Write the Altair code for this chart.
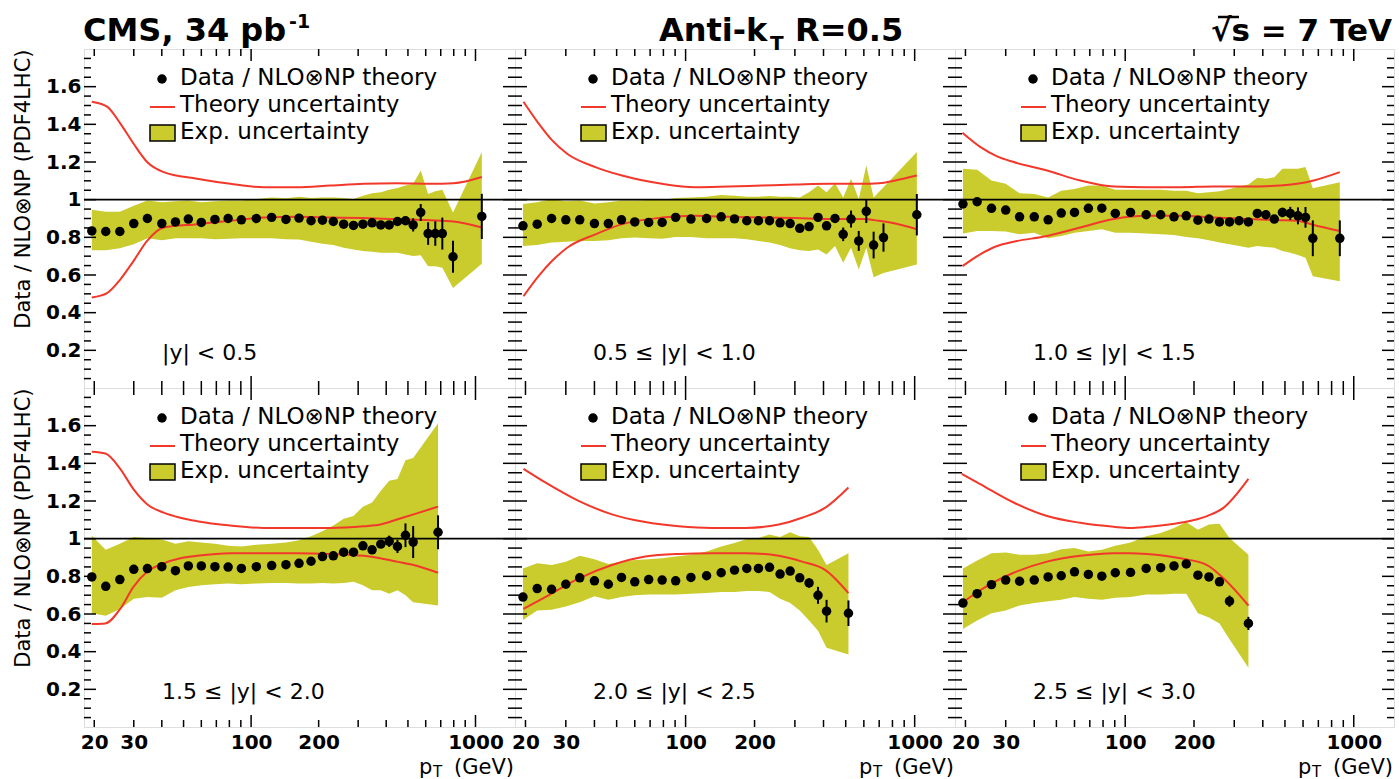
import altair as alt
import pandas as pd

# ---------------------------------------------------------------- data
# jet pT bin centres (GeV)
BIN_CENTERS = [19.5, 22.5, 26, 30, 34.5, 40, 46, 52.5, 60, 69, 79, 90.5,
               105.5, 123.5, 143, 163.5, 185, 208, 232.5, 258.5, 286, 315,
               346, 378.5, 412.5, 449, 487.5, 527.5, 570, 615, 662, 711.5]

# |y| < 0.5
PT_1 = BIN_CENTERS[:32] + [794, 1067]
RATIO_1 = [0.834, 0.831, 0.831, 0.873, 0.900, 0.873, 0.882, 0.897, 0.879, 0.895,
           0.900, 0.893, 0.900, 0.906, 0.895, 0.902, 0.888, 0.891, 0.884, 0.870,
           0.863, 0.870, 0.877, 0.866, 0.866, 0.884, 0.888, 0.866, 0.932, 0.820,
           0.820, 0.820, 0.697, 0.911]
ERR_1 = [0.004] * 20 + [0.005, 0.006, 0.007, 0.008, 0.010, 0.013, 0.018, 0.035,
                        0.045, 0.060, 0.065, 0.085, 0.085, 0.120]
EXP_HI_1 = [0.947, 0.936, 0.936, 0.968, 0.995, 0.986, 0.991, 0.995, 0.986, 0.991,
            0.995, 0.995, 1.004, 1.012, 1.007, 1.016, 1.009, 1.012, 1.012, 1.009,
            1.004, 1.021, 1.034, 1.039, 1.052, 1.062, 1.075, 1.084, 1.155, 1.030,
            1.045, 1.052, 0.932, 1.253]
EXP_LO_1 = [0.731, 0.731, 0.742, 0.763, 0.795, 0.784, 0.795, 0.795, 0.795, 0.790,
            0.793, 0.795, 0.795, 0.795, 0.790, 0.788, 0.777, 0.766, 0.759, 0.745,
            0.736, 0.727, 0.724, 0.718, 0.718, 0.718, 0.709, 0.701, 0.705, 0.647,
            0.647, 0.638, 0.531, 0.660]
TH_PT_1 = [19.5, 22.8, 26.1, 29.9, 34.4, 40.8, 57.4, 80.8, 113.7, 160.1, 225.4,
           317.5, 446.8, 629, 799, 1067]
TH_HI_1 = [1.520, 1.494, 1.405, 1.298, 1.200, 1.146, 1.111, 1.084, 1.066, 1.066,
           1.075, 1.084, 1.087, 1.084, 1.087, 1.120]
TH_LO_1 = [0.481, 0.504, 0.576, 0.674, 0.781, 0.852, 0.870, 0.888, 0.905, 0.909,
           0.905, 0.902, 0.896, 0.891, 0.884, 0.852]

# 0.5 <= |y| < 1.0
PT_2 = BIN_CENTERS[:31] + [731, 1022]
RATIO_2 = [0.861, 0.870, 0.900, 0.893, 0.893, 0.873, 0.873, 0.893, 0.882, 0.879,
           0.879, 0.906, 0.897, 0.900, 0.909, 0.898, 0.888, 0.888, 0.888, 0.877,
           0.873, 0.848, 0.857, 0.906, 0.861, 0.900, 0.816, 0.897, 0.781, 0.938,
           0.759, 0.799, 0.920]
ERR_2 = [0.004] * 23 + [0.008, 0.010, 0.015, 0.036, 0.045, 0.053, 0.062, 0.071,
                        0.075, 0.110]
EXP_HI_2 = [0.977, 0.986, 1.004, 0.991, 0.995, 0.980, 0.986, 0.995, 0.995, 0.998,
            0.998, 1.009, 1.012, 1.016, 1.025, 1.021, 1.016, 1.016, 1.020, 1.016,
            1.016, 1.012, 1.039, 1.075, 1.039, 1.087, 1.012, 1.111, 1.004, 1.182,
            1.012, 1.066, 1.253]
EXP_LO_2 = [0.754, 0.759, 0.772, 0.777, 0.781, 0.781, 0.784, 0.795, 0.799, 0.795,
            0.793, 0.802, 0.802, 0.795, 0.795, 0.795, 0.790, 0.781, 0.772, 0.759,
            0.742, 0.731, 0.727, 0.736, 0.709, 0.754, 0.665, 0.745, 0.629, 0.745,
            0.588, 0.611, 0.656]
TH_PT_2 = [19.6, 22.8, 26.1, 30.4, 40.4, 52.8, 78.9, 110.4, 154.4, 215.7, 301.5,
           422, 589.6, 697.4, 824.3, 1022]
TH_HI_2 = [1.520, 1.405, 1.316, 1.244, 1.173, 1.128, 1.084, 1.066, 1.070, 1.075,
           1.080, 1.084, 1.084, 1.087, 1.102, 1.128]
TH_LO_2 = [0.487, 0.594, 0.674, 0.745, 0.816, 0.870, 0.905, 0.914, 0.909, 0.905,
           0.902, 0.897, 0.897, 0.888, 0.873, 0.843]

# 1.0 <= |y| < 1.5
PT_3 = BIN_CENTERS[:31] + [869]
RATIO_3 = [0.977, 0.989, 0.954, 0.945, 0.909, 0.909, 0.893, 0.929, 0.932, 0.954,
           0.955, 0.927, 0.932, 0.920, 0.920, 0.909, 0.914, 0.891, 0.897, 0.882,
           0.882, 0.888, 0.882, 0.927, 0.920, 0.897, 0.932, 0.927, 0.914, 0.906,
           0.795, 0.795]
ERR_3 = [0.004] * 25 + [0.010, 0.025, 0.035, 0.045, 0.055, 0.095, 0.095]
EXP_HI_3 = [1.164, 1.159, 1.102, 1.084, 1.034, 1.030, 1.012, 1.048, 1.057, 1.075,
            1.075, 1.052, 1.052, 1.052, 1.052, 1.048, 1.048, 1.034, 1.039, 1.045,
            1.057, 1.070, 1.080, 1.116, 1.111, 1.119, 1.164, 1.164, 1.164, 1.173,
            1.060, 1.093]
EXP_LO_3 = [0.820, 0.834, 0.834, 0.831, 0.816, 0.825, 0.795, 0.807, 0.825, 0.834,
            0.843, 0.825, 0.825, 0.820, 0.816, 0.813, 0.802, 0.795, 0.784, 0.772,
            0.763, 0.754, 0.745, 0.754, 0.749, 0.745, 0.727, 0.718, 0.706, 0.692,
            0.594, 0.567]
TH_PT_3 = [19.4, 23.2, 27.5, 32.5, 45.5, 63.6, 89.1, 124.6, 174.3, 244, 341.4,
           477.5, 564.8, 668.3, 869]
TH_HI_3 = [1.355, 1.280, 1.230, 1.200, 1.155, 1.102, 1.070, 1.066, 1.066, 1.070,
           1.070, 1.075, 1.084, 1.102, 1.146]
TH_LO_3 = [0.647, 0.710, 0.754, 0.777, 0.807, 0.852, 0.897, 0.914, 0.914, 0.905,
           0.897, 0.891, 0.888, 0.866, 0.834]

# 1.5 <= |y| < 2.0
PT_4 = BIN_CENTERS[:28] + [681]
RATIO_4 = [0.797, 0.747, 0.783, 0.837, 0.841, 0.851, 0.830, 0.855, 0.855, 0.851,
           0.849, 0.842, 0.851, 0.857, 0.862, 0.869, 0.880, 0.905, 0.909, 0.928,
           0.928, 0.962, 0.941, 0.971, 0.986, 0.959, 1.018, 0.982, 1.034]
ERR_4 = [0.004] * 21 + [0.008, 0.010, 0.012, 0.030, 0.035, 0.063, 0.085, 0.090]
EXP_HI_4 = [1.016, 0.941, 0.973, 1.009, 1.004, 0.995, 0.973, 0.986, 0.980, 0.973,
            0.962, 0.959, 0.968, 0.973, 0.980, 0.991, 1.013, 1.039, 1.070, 1.106,
            1.120, 1.170, 1.192, 1.254, 1.308, 1.317, 1.416, 1.428, 1.613]
EXP_LO_4 = [0.604, 0.591, 0.627, 0.681, 0.690, 0.686, 0.726, 0.744, 0.753, 0.758,
            0.762, 0.758, 0.762, 0.765, 0.765, 0.762, 0.762, 0.765, 0.762, 0.765,
            0.771, 0.753, 0.726, 0.726, 0.708, 0.726, 0.699, 0.663, 0.645]
TH_PT_4 = [19.5, 22.4, 26.1, 29.9, 34.4, 40.8, 48.4, 57.4, 80.8, 113.7, 160.1,
           225.4, 317.5, 376.6, 446.8, 530, 681]
TH_HI_4 = [1.461, 1.452, 1.371, 1.263, 1.183, 1.138, 1.111, 1.093, 1.070, 1.057,
           1.057, 1.057, 1.066, 1.075, 1.102, 1.129, 1.170]
TH_LO_4 = [0.547, 0.550, 0.627, 0.744, 0.824, 0.869, 0.896, 0.909, 0.923, 0.923,
           0.923, 0.919, 0.909, 0.896, 0.878, 0.860, 0.819]

# 2.0 <= |y| < 2.5
PT_5 = BIN_CENTERS[:25] + [514]
RATIO_5 = [0.690, 0.735, 0.731, 0.758, 0.792, 0.776, 0.758, 0.794, 0.771, 0.783,
           0.780, 0.776, 0.794, 0.803, 0.819, 0.833, 0.842, 0.842, 0.848, 0.812,
           0.828, 0.792, 0.765, 0.699, 0.615, 0.604]
ERR_5 = [0.004] * 21 + [0.010, 0.025, 0.045, 0.060, 0.068]
EXP_HI_5 = [0.842, 0.869, 0.860, 0.878, 0.909, 0.891, 0.866, 0.878, 0.887, 0.891,
            0.896, 0.905, 0.914, 0.932, 0.959, 0.977, 0.998, 1.004, 1.022, 1.009,
            1.034, 1.013, 1.009, 0.941, 0.860, 0.923]
EXP_LO_5 = [0.568, 0.618, 0.622, 0.640, 0.663, 0.694, 0.676, 0.690, 0.699, 0.704,
            0.704, 0.704, 0.708, 0.711, 0.717, 0.717, 0.722, 0.722, 0.717, 0.681,
            0.658, 0.618, 0.565, 0.511, 0.421, 0.385]
TH_PT_5 = [19.6, 24.4, 34.1, 47.7, 66.7, 93.3, 130.5, 182.4, 255.2, 322.6, 407.7, 514]
TH_HI_5 = [1.371, 1.299, 1.201, 1.129, 1.088, 1.066, 1.057, 1.057, 1.075, 1.111,
           1.165, 1.272]
TH_LO_5 = [0.627, 0.690, 0.788, 0.860, 0.905, 0.919, 0.923, 0.923, 0.909, 0.878,
           0.833, 0.711]

# 2.5 <= |y| < 3.0
PT_6 = BIN_CENTERS[:21] + [346]
RATIO_6 = [0.658, 0.708, 0.756, 0.780, 0.774, 0.780, 0.797, 0.803, 0.824, 0.810,
           0.801, 0.819, 0.821, 0.842, 0.846, 0.855, 0.866, 0.806, 0.797, 0.771,
           0.668, 0.550]
ERR_6 = [0.004] * 19 + [0.010, 0.030, 0.035]
EXP_HI_6 = [0.842, 0.884, 0.923, 0.927, 0.914, 0.914, 0.923, 0.944, 0.950, 0.932,
            0.941, 0.962, 0.980, 1.013, 1.030, 1.057, 1.088, 1.048, 1.075, 1.079,
            1.004, 0.914]
EXP_LO_6 = [0.520, 0.565, 0.604, 0.618, 0.645, 0.658, 0.668, 0.676, 0.690, 0.681,
            0.676, 0.686, 0.690, 0.704, 0.704, 0.708, 0.708, 0.604, 0.582, 0.550,
            0.466, 0.314]
TH_PT_6 = [19.3, 23.2, 32.5, 45.5, 63.6, 89.1, 105.3, 124.6, 174.3, 228.1, 269.9, 346]
TH_HI_6 = [1.344, 1.290, 1.192, 1.120, 1.084, 1.063, 1.057, 1.063, 1.084, 1.120,
           1.165, 1.317]
TH_LO_6 = [0.658, 0.726, 0.819, 0.878, 0.909, 0.923, 0.923, 0.919, 0.896, 0.860,
           0.788, 0.645]

RAP_LABELS = ["|y| < 0.5", "0.5 \u2264 |y| < 1.0", "1.0 \u2264 |y| < 1.5",
              "1.5 \u2264 |y| < 2.0", "2.0 \u2264 |y| < 2.5", "2.5 \u2264 |y| < 3.0"]
LEGEND_LABELS = ["Data / NLO\u2297NP theory", "Theory uncertainty", "Exp. uncertainty"]
Y_TITLE = "Data / NLO\u2297NP (PDF4LHC)"

# axis ticks and labels
Y_LABELS = [0.2, 0.4, 0.6, 0.8, 1.0, 1.2, 1.4, 1.6]
Y_MINOR = [0.05, 0.1, 0.15, 0.25, 0.3, 0.35, 0.45, 0.5, 0.55, 0.65, 0.7, 0.75,
           0.85, 0.9, 0.95, 1.05, 1.1, 1.15, 1.25, 1.3, 1.35, 1.45, 1.5, 1.55,
           1.65, 1.7, 1.75]
X_LABELS = [20, 30, 100, 200, 1000]
X_MAJOR = [100, 1000]
X_MINOR = [20, 30, 40, 50, 60, 70, 80, 90, 200, 300, 400, 500, 600, 700, 800, 900]

SERIES = [
    (PT_1, RATIO_1, ERR_1, EXP_HI_1, EXP_LO_1, TH_PT_1, TH_HI_1, TH_LO_1),
    (PT_2, RATIO_2, ERR_2, EXP_HI_2, EXP_LO_2, TH_PT_2, TH_HI_2, TH_LO_2),
    (PT_3, RATIO_3, ERR_3, EXP_HI_3, EXP_LO_3, TH_PT_3, TH_HI_3, TH_LO_3),
    (PT_4, RATIO_4, ERR_4, EXP_HI_4, EXP_LO_4, TH_PT_4, TH_HI_4, TH_LO_4),
    (PT_5, RATIO_5, ERR_5, EXP_HI_5, EXP_LO_5, TH_PT_5, TH_HI_5, TH_LO_5),
    (PT_6, RATIO_6, ERR_6, EXP_HI_6, EXP_LO_6, TH_PT_6, TH_HI_6, TH_LO_6),
]

# ---------------------------------------------------------------- style
FONT = "DejaVu Sans"
BAND = "#c9cc2c"
RED = "#f2382a"
WIDTHS = [431, 440, 439]
HEIGHT = 339
TICK_MAJOR = 12
TICK_MINOR = 7
DOT = 90
LEGEND_ROWS = [29, 56, 83]
ONE = pd.DataFrame({"one": [1.0]})


def text(label, x, y, size, weight="normal", align="left", baseline="middle"):
    return alt.Chart(ONE).mark_text(
        text=label, font=FONT, fontSize=size, fontWeight=weight, align=align,
        baseline=baseline, color="black",
    ).encode(x=alt.value(x), y=alt.value(y))


def make_panel(i):
    col, row = i % 3, i // 3
    W, H = WIDTHS[col], HEIGHT
    pt, r, err, hi, lo, tpt, thi, tlo = SERIES[i]

    pts = pd.DataFrame({"pt": pt, "r": r, "err": err})
    pts["r_lo"] = pts["r"] - pts["err"]
    pts["r_hi"] = pts["r"] + pts["err"]
    band = pd.DataFrame({"pt": pt, "lo": lo, "hi": hi})
    theory = pd.DataFrame({"pt": tpt, "up": thi, "dn": tlo})

    # the same axis definition goes on every layer so the layer merge keeps it
    y_axis = None
    if col == 0:
        y_axis = alt.Axis(
            values=Y_LABELS, labelExpr="datum.value == 1 ? '1' : format(datum.value, '.1f')",
            ticks=False, tickSize=0, domain=False, grid=False,
            labelFont=FONT, labelFontSize=20, labelFontWeight="bold", labelColor="black",
            labelPadding=3, title=Y_TITLE, titleFont=FONT, titleFontSize=21,
            titleFontWeight="normal", titleColor="black", titleAnchor="end", titlePadding=12,
        )
    x_axis = None
    if row == 1:
        x_axis = alt.Axis(
            values=X_LABELS, labelExpr="format(datum.value, 'd')", ticks=False, tickSize=0,
            domain=False, grid=False, labelFont=FONT, labelFontSize=20,
            labelFontWeight="bold", labelColor="black", labelPadding=5,
            labelFlush=False, labelOverlap=False, title=None,
        )

    def X(field):
        return alt.X(field, type="quantitative",
                     scale=alt.Scale(type="log", domain=[18, 1500], nice=False), axis=x_axis)

    def Y(field):
        return alt.Y(field, type="quantitative",
                     scale=alt.Scale(domain=[0, 1.8], nice=False, zero=False), axis=y_axis)

    r0, r1, r2 = LEGEND_ROWS
    layers = [
        alt.Chart(band).mark_area(color=BAND, opacity=1).encode(
            x=X("pt"), y=Y("lo"), y2="hi"),
        alt.Chart(ONE).mark_rule(color="black", strokeWidth=1.6).encode(
            y=Y("one"), x=alt.value(0), x2=alt.value(W)),
        alt.Chart(theory).mark_line(color=RED, strokeWidth=2, interpolate="monotone").encode(
            x=X("pt"), y=Y("up")),
        alt.Chart(theory).mark_line(color=RED, strokeWidth=2, interpolate="monotone").encode(
            x=X("pt"), y=Y("dn")),
        alt.Chart(pts).mark_rule(color="black", strokeWidth=2).encode(
            x=X("pt"), y=Y("r_lo"), y2="r_hi"),
        alt.Chart(pts).mark_circle(color="black", size=DOT, opacity=1).encode(
            x=X("pt"), y=Y("r")),
        # legend
        alt.Chart(ONE).mark_circle(color="black", size=DOT, opacity=1).encode(
            x=alt.value(78), y=alt.value(r0 + 1)),
        alt.Chart(ONE).mark_rule(color=RED, strokeWidth=2).encode(
            x=alt.value(66), x2=alt.value(91), y=alt.value(r1 + 2)),
        alt.Chart(ONE).mark_rect(color=BAND, stroke="black", strokeWidth=1.5).encode(
            x=alt.value(66), x2=alt.value(91), y=alt.value(r2 - 7), y2=alt.value(r2 + 9)),
        text(LEGEND_LABELS[0], 96, r0, 23),
        text(LEGEND_LABELS[1], 96, r1, 23),
        text(LEGEND_LABELS[2], 96, r2, 23),
        text(RAP_LABELS[i], 78, 304, 22),
    ]

    # inward ticks on all four sides of the frame
    for vals, ln in ((Y_LABELS, TICK_MAJOR), (Y_MINOR, TICK_MINOR)):
        src = alt.Chart(pd.DataFrame({"v": vals}))
        layers.append(src.mark_rule(color="black", strokeWidth=1.5).encode(
            y=Y("v"), x=alt.value(0), x2=alt.value(ln)))
        layers.append(src.mark_rule(color="black", strokeWidth=1.5).encode(
            y=Y("v"), x=alt.value(W - ln), x2=alt.value(W)))
    for vals, ln in ((X_MAJOR, TICK_MAJOR), (X_MINOR, TICK_MINOR)):
        src = alt.Chart(pd.DataFrame({"v": vals}))
        layers.append(src.mark_rule(color="black", strokeWidth=1.5).encode(
            x=X("v"), y=alt.value(H), y2=alt.value(H - ln)))
        layers.append(src.mark_rule(color="black", strokeWidth=1.5).encode(
            x=X("v"), y=alt.value(0), y2=alt.value(ln)))

    if row == 0:
        if col == 0:
            layers += [text("CMS, 34 pb", -1, -8, 32, "bold", baseline="alphabetic"),
                       text("-1", 205, -21, 19, "bold", baseline="alphabetic")]
        elif col == 1:
            layers += [text("Anti-k", 144, -8, 32, "bold", baseline="alphabetic"),
                       text("T", 255, 1, 20, "bold", baseline="alphabetic"),
                       text("R=0.5", 280, -8, 32, "bold", baseline="alphabetic")]
        else:
            layers += [text("\u221as = 7 TeV", W - 2, -8, 31, "bold", align="right",
                            baseline="alphabetic"),
                       # vinculum of the square root over the "s"
                       alt.Chart(ONE).mark_rule(color="black", strokeWidth=2.5).encode(
                           x=alt.value(263), x2=alt.value(284), y=alt.value(-32))]
    else:
        layers += [text("(GeV)", W - 1, H + 47, 21, align="right", baseline="alphabetic"),
                   text("T", W - 82, H + 50, 15, baseline="alphabetic"),
                   text("p", W - 96, H + 47, 21, baseline="alphabetic")]

    return alt.layer(*layers).properties(width=W, height=H)


panels = [make_panel(i) for i in range(6)]

chart = (
    alt.concat(*panels, columns=3, spacing=0, bounds="flush")
    .properties(padding={"left": 12, "top": 12, "right": 0, "bottom": 0})
    .configure_view(stroke="black", strokeWidth=2)
    .configure(background="white", font=FONT)
)

chart.save("out.html", embed_options={"renderer": "svg", "actions": False})
